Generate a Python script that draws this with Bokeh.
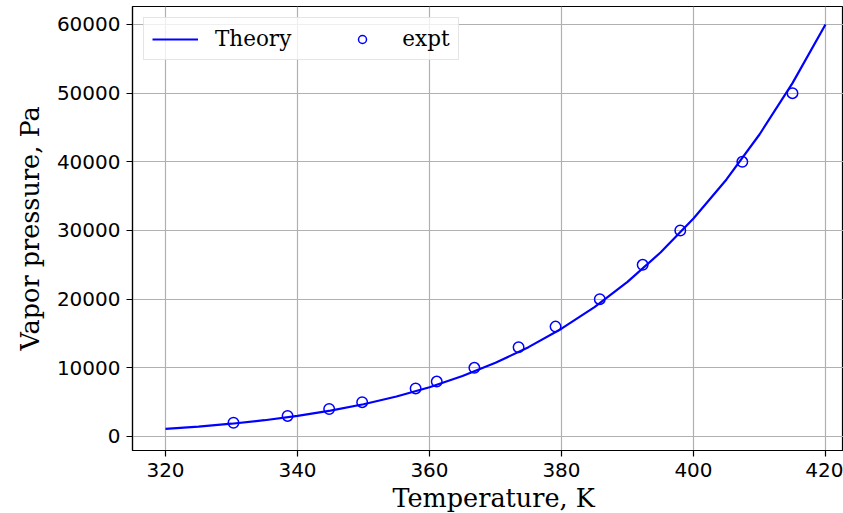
from bokeh.plotting import figure
from bokeh.models import Range1d, FixedTicker, BasicTickFormatter, Legend, LegendItem, Title
from bokeh.embed import file_html
from bokeh.resources import INLINE

# Theory curve
theory_T = [320, 325, 330, 335, 340, 345, 350, 355, 360, 365, 370, 375, 380,
            385, 390, 395, 400, 405, 410, 415, 420]
theory_P = [1120, 1450, 1860, 2370, 3000, 3760, 4700, 5820, 7180, 8800, 10730,
            13010, 15700, 18850, 22520, 26790, 31740, 37430, 43980, 51460, 60000]

# Experimental points
expt_T = [330.3, 338.5, 344.8, 349.8, 357.9, 361.1, 366.8, 373.5, 379.1,
          385.8, 392.3, 398.0, 407.4, 415.0]
expt_P = [2000, 3000, 4000, 5000, 7000, 8000, 10000, 13000, 16000,
          20000, 25000, 30000, 40000, 50000]

x_ticks = [320, 340, 360, 380, 400, 420]
y_ticks = [0, 10000, 20000, 30000, 40000, 50000, 60000]

p = figure(width=843, height=513, output_backend="svg", toolbar_location=None,
           x_range=Range1d(315.0, 422.73), y_range=Range1d(-2040, 62620),
           min_border_left=132, min_border_right=0, min_border_top=6,
           min_border_bottom=63)
p.frame_width = 711
p.frame_height = 444

p.outline_line_color = "black"
p.outline_line_width = 1.2
p.background_fill_color = "white"
p.border_fill_color = "white"

for ax in (p.xaxis[0], p.yaxis[0]):
    ax.major_tick_out = 6
    ax.major_tick_in = 0
    ax.minor_tick_out = 0
    ax.minor_tick_in = 0
    ax.major_tick_line_color = "black"
    ax.major_tick_line_width = 1.2
    ax.axis_line_color = "black"
    ax.axis_line_width = 1.2
    ax.major_label_text_font = "DejaVu Sans"
    ax.major_label_text_font_size = "20px"
    ax.major_label_text_color = "#000000"
    ax.major_label_standoff = 6
    ax.formatter = BasicTickFormatter(use_scientific=False)

p.xaxis.ticker = FixedTicker(ticks=x_ticks)
p.yaxis.ticker = FixedTicker(ticks=y_ticks)

p.yaxis.axis_label = "Vapor pressure, Pa"
p.yaxis.axis_label_text_font = "DejaVu Serif"
p.yaxis.axis_label_text_font_size = "25.5px"
p.yaxis.axis_label_text_font_style = "normal"
p.yaxis.axis_label_text_color = "black"
p.yaxis.axis_label_standoff = 9

p.add_layout(Title(text="Temperature, K", align="left", offset=260,
                   text_font="DejaVu Serif", text_font_size="25.5px",
                   text_font_style="normal", text_color="black", standoff=3),
             "below")

p.xgrid.grid_line_color = "#b0b0b0"
p.ygrid.grid_line_color = "#b0b0b0"
p.xgrid.grid_line_width = 1.2
p.ygrid.grid_line_width = 1.2
p.xgrid.ticker = FixedTicker(ticks=x_ticks)
p.ygrid.ticker = FixedTicker(ticks=y_ticks)

r_line = p.line(theory_T, theory_P, line_color="#0000ff", line_width=2.2)
r_pts = p.scatter(expt_T, expt_P, marker="circle", size=10.5, fill_color=None,
                  line_color="#0000ff", line_width=1.5)

legend = Legend(items=[LegendItem(label="Theory", renderers=[r_line]),
                       LegendItem(label="expt", renderers=[r_pts])],
                orientation="horizontal", location="top_left")
legend.label_text_font = "DejaVu Serif"
legend.label_text_font_size = "21.5px"
legend.label_text_color = "black"
legend.glyph_width = 46
legend.glyph_height = 20
legend.label_height = 20
legend.label_standoff = 17
legend.spacing = 48
legend.padding = 8
legend.margin = 11
legend.border_line_color = "#cccccc"
legend.border_line_width = 1
legend.background_fill_alpha = 0.8
p.add_layout(legend, "center")

open("out.html", "w").write(file_html(p, INLINE))
